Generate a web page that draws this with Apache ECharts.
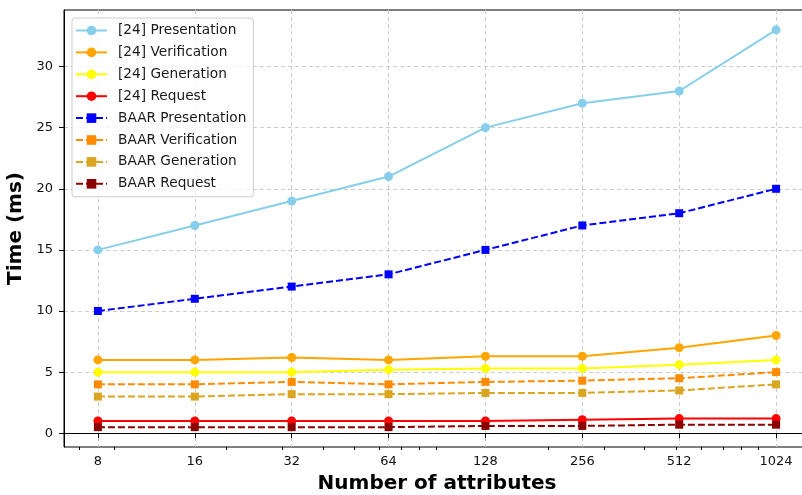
<!DOCTYPE html>
<html><head><meta charset="utf-8">
<script src="https://cdn.jsdelivr.net/npm/echarts@6/dist/echarts.min.js"></script>
<style>html,body{margin:0;padding:0;background:#fff}#c{width:802px;height:495px}</style>
</head><body><div id="c"></div>
<script>
const attributes = [8, 16, 32, 64, 128, 256, 512, 1024];
const minorTickValues = [7, 9, 20, 30, 40, 50, 60, 70, 80, 90, 200, 300, 400, 500, 600, 700, 800, 900];
const yTickValues = [0, 5, 10, 15, 20, 25, 30];

const ref24Presentation = [15, 17, 19, 21, 25, 27, 28, 33];
const ref24Verification = [6, 6, 6.2, 6, 6.3, 6.3, 7, 8];
const ref24Generation = [5, 5, 5, 5.2, 5.3, 5.3, 5.6, 6];
const ref24Request = [1, 1, 1, 1, 1, 1.1, 1.2, 1.2];
const baarPresentation = [10, 11, 12, 13, 15, 17, 18, 20];
const baarVerification = [4, 4, 4.2, 4, 4.2, 4.3, 4.5, 5];
const baarGeneration = [3, 3, 3.2, 3.2, 3.3, 3.3, 3.5, 4];
const baarRequest = [0.5, 0.5, 0.5, 0.5, 0.6, 0.6, 0.7, 0.7];

const seriesDefs = [
  { name: '[24] Presentation', data: ref24Presentation, color: '#87CEEB', dashed: false },
  { name: '[24] Verification', data: ref24Verification, color: '#FFA500', dashed: false },
  { name: '[24] Generation', data: ref24Generation, color: '#FFFF00', dashed: false },
  { name: '[24] Request', data: ref24Request, color: '#FF0000', dashed: false },
  { name: 'BAAR Presentation', data: baarPresentation, color: '#0000FF', dashed: true },
  { name: 'BAAR Verification', data: baarVerification, color: '#FF8C00', dashed: true },
  { name: 'BAAR Generation', data: baarGeneration, color: '#DAA520', dashed: true },
  { name: 'BAAR Request', data: baarRequest, color: '#8B0000', dashed: true }
];

const FONT = 'DejaVu Sans';
const xMin = 8 / Math.pow(2, 0.35);
const xMax = 1024 * Math.pow(2, 0.35);

const chart = echarts.init(document.getElementById('c'), null, { renderer: 'canvas' });
chart.setOption({
  animation: false,
  backgroundColor: '#ffffff',
  grid: { left: 64, right: -8, top: 10, bottom: 48, outerBoundsMode: 'none', containLabel: false,
          show: true, borderColor: '#000', borderWidth: 1, backgroundColor: 'transparent' },
  legend: {
    left: 72, top: 18, orient: 'vertical',
    backgroundColor: 'rgba(255,255,255,0.8)', borderColor: '#cccccc', borderWidth: 1, borderRadius: 3,
    padding: [5.5, 7, 6, 3], itemWidth: 31, itemHeight: 12, itemGap: 7.9,
    textStyle: { fontFamily: FONT, fontSize: 13.7, color: '#1a1a1a', padding: [0, 0, 0, 6] },
    data: seriesDefs.map(s => s.name)
  },
  xAxis: [{
    type: 'log', logBase: 2, min: xMin, max: xMax,
    name: 'Number of attributes', nameLocation: 'middle', nameGap: 27,
    nameTextStyle: { fontFamily: FONT, fontSize: 20, fontWeight: 'bold', color: '#000' },
    axisLine: { show: true, lineStyle: { color: '#000', width: 1 } },
    axisTick: { show: true, length: 5, customValues: attributes, lineStyle: { color: '#000' } },
    axisLabel: { customValues: attributes, margin: 8, fontFamily: FONT, fontSize: 13, color: '#111', formatter: v => String(Math.round(v)) },
    splitLine: { show: true, lineStyle: { color: '#cccccc', type: [4, 3], width: 1 } },
    minorTick: { show: false }, minorSplitLine: { show: false }
  }, {
    type: 'log', logBase: 2, min: xMin, max: xMax, position: 'bottom', gridIndex: 0,
    axisLine: { show: false },
    axisTick: { show: true, length: 3, customValues: minorTickValues, lineStyle: { color: '#000' } },
    axisLabel: { show: false },
    splitLine: { show: false }
  }],
  yAxis: {
    type: 'value', min: -1.125, max: 34.625,
    name: 'Time (ms)', nameLocation: 'middle', nameGap: 38,
    nameTextStyle: { fontFamily: FONT, fontSize: 20, fontWeight: 'bold', color: '#000' },
    axisLine: { show: true, lineStyle: { color: '#000', width: 1 } },
    axisTick: { show: true, length: 5, customValues: yTickValues, lineStyle: { color: '#000' } },
    axisLabel: { customValues: yTickValues, margin: 11, fontFamily: FONT, fontSize: 13, color: '#111' },
    splitLine: { show: true, lineStyle: { color: '#cccccc', type: [4, 3], width: 1 } }
  },
  series: seriesDefs.map(s => ({
    name: s.name, type: 'line', xAxisIndex: 0,
    data: attributes.map((a, i) => [a, s.data[i]]),
    symbol: s.dashed ? 'rect' : 'circle',
    symbolSize: s.dashed ? 8 : 9,
    showAllSymbol: true,
    lineStyle: { color: s.color, width: 2, type: s.dashed ? [7, 3] : 'solid' },
    itemStyle: { color: s.color, borderWidth: 0 },
    emphasis: { disabled: true }
  }))
});
</script></body></html>
